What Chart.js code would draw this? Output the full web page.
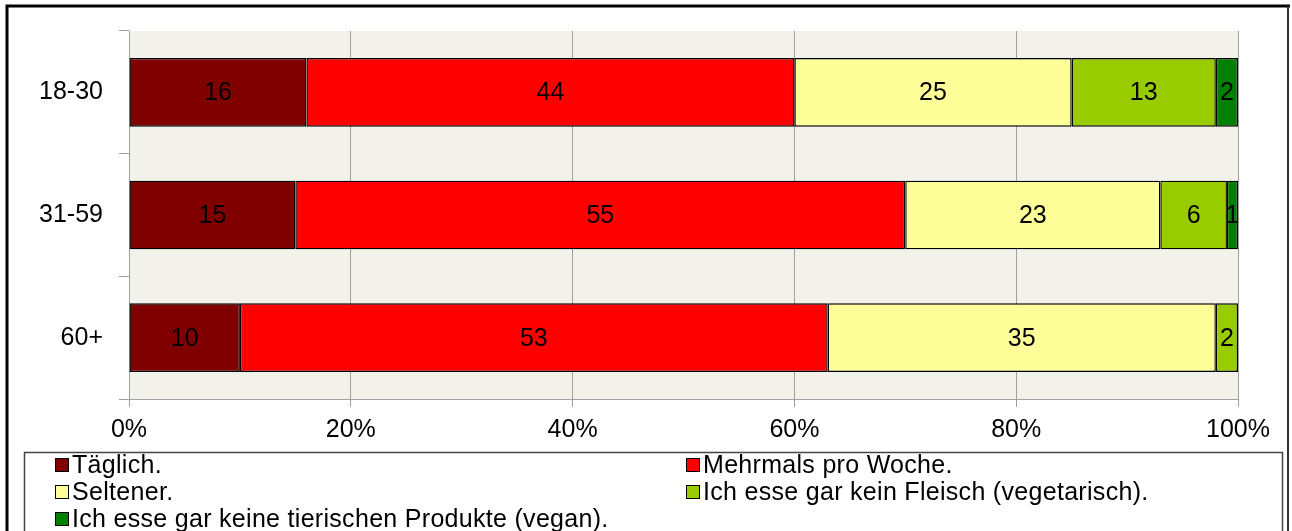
<!DOCTYPE html>
<html>
<head>
<meta charset="utf-8">
<script src="https://cdn.jsdelivr.net/npm/chart.js@4"></script>
<style>
    body { margin: 0; background: #ffffff; }
    canvas { display: block; }
</style>
</head>
<body>
<canvas id="chartFleisch" width="1292" height="531"></canvas>
<script>
    const ageGroups = ['18-30', '31-59', '60+'];

    const taeglich = [16, 15, 10];
    const mehrmals = [44, 55, 53];
    const seltener = [25, 23, 35];
    const vegetarisch = [13, 6, 2];
    const vegan = [2, 1, 0];

    const xTicks = [0, 20, 40, 60, 80, 100];

    const fontFamily = '"Liberation Sans", Arial, sans-serif';

    function makeDataset(label, data, color) {
        return {
            label: label,
            data: data,
            backgroundColor: color,
            borderColor: '#000000',
            borderWidth: 1.4,
            borderSkipped: false,
            categoryPercentage: 0.56,
            barPercentage: 1
        };
    }

    const datasets = [
        makeDataset('Täglich.', taeglich, '#800000'),
        makeDataset('Mehrmals pro Woche.', mehrmals, '#ff0000'),
        makeDataset('Seltener.', seltener, '#ffff99'),
        makeDataset('Ich esse gar kein Fleisch (vegetarisch).', vegetarisch, '#99cc00'),
        makeDataset('Ich esse gar keine tierischen Produkte (vegan).', vegan, '#008000')
    ];

    // beige plot area behind the bars
    const plotBackground = {
        id: 'plotBackground',
        beforeDraw: function (chart) {
            const area = chart.chartArea;
            const ctx = chart.ctx;
            ctx.save();
            ctx.fillStyle = '#f2f1ea';
            ctx.fillRect(area.left, area.top, area.right - area.left, area.bottom - area.top);
            ctx.restore();
        }
    };

    // numbers in the middle of each segment
    const barValues = {
        id: 'barValues',
        afterDatasetsDraw: function (chart) {
            const ctx = chart.ctx;
            ctx.save();
            ctx.font = '25px ' + fontFamily;
            ctx.fillStyle = '#000000';
            ctx.textAlign = 'center';
            ctx.textBaseline = 'middle';
            chart.data.datasets.forEach(function (ds, i) {
                const meta = chart.getDatasetMeta(i);
                meta.data.forEach(function (bar, j) {
                    const value = ds.data[j];
                    if (!value) {
                        return;
                    }
                    ctx.fillText(String(value), (bar.x + bar.base) / 2, bar.y + 1);
                });
            });
            ctx.restore();
        }
    };

    // frame around the whole chart and the boxed legend underneath
    const frameAndLegend = {
        id: 'frameAndLegend',
        afterDraw: function (chart) {
            const ctx = chart.ctx;
            ctx.save();

            ctx.strokeStyle = '#000000';
            ctx.lineWidth = 3;
            ctx.beginPath();
            ctx.moveTo(7, 540);
            ctx.lineTo(7, 6);
            ctx.lineTo(1290, 6);
            ctx.stroke();
            ctx.lineWidth = 2;
            ctx.strokeStyle = '#333333';
            ctx.beginPath();
            ctx.moveTo(1288, 6);
            ctx.lineTo(1288, 540);
            ctx.stroke();

            ctx.lineWidth = 1.5;
            ctx.strokeStyle = '#444444';
            ctx.strokeRect(24.5, 452.5, 1258, 100);

            const columns = [55, 686];
            const rows = [465, 492, 519];
            ctx.font = '25px ' + fontFamily;
            ctx.letterSpacing = '0.3px';
            ctx.textAlign = 'left';
            ctx.textBaseline = 'middle';
            chart.data.datasets.forEach(function (ds, i) {
                const x = columns[i % 2];
                const y = rows[Math.floor(i / 2)];
                ctx.fillStyle = ds.backgroundColor;
                ctx.fillRect(x, y - 7, 14, 14);
                ctx.lineWidth = 1;
                ctx.strokeStyle = '#000000';
                ctx.strokeRect(x + 0.5, y - 6.5, 13, 13);
                ctx.fillStyle = '#000000';
                ctx.fillText(ds.label, x + 17, y + 1);
            });

            ctx.restore();
        }
    };

    new Chart('chartFleisch', {
        type: 'bar',
        data: {
            labels: ageGroups,
            datasets: datasets
        },
        options: {
            indexAxis: 'y',
            responsive: false,
            animation: false,
            layout: {
                padding: { top: 30, right: 54, left: 0, bottom: 0 }
            },
            plugins: {
                legend: { display: false },
                tooltip: { enabled: false }
            },
            scales: {
                x: {
                    stacked: true,
                    min: 0,
                    max: 100,
                    afterBuildTicks: function (scale) {
                        scale.ticks = xTicks.map(function (v) { return { value: v }; });
                    },
                    afterFit: function (scale) {
                        scale.height = 132;
                    },
                    grid: {
                        color: '#a0a0a0',
                        lineWidth: 1,
                        tickLength: 8
                    },
                    border: { color: '#a0a0a0', width: 1 },
                    ticks: {
                        color: '#000000',
                        padding: 8,
                        font: { family: fontFamily, size: 25 },
                        callback: function (value) {
                            return value + '%';
                        }
                    }
                },
                y: {
                    stacked: true,
                    afterFit: function (scale) {
                        scale.width = 129;
                    },
                    grid: {
                        color: '#a0a0a0',
                        drawOnChartArea: false,
                        tickLength: 10
                    },
                    border: { color: '#a0a0a0', width: 1 },
                    ticks: {
                        color: '#000000',
                        padding: 16,
                        font: { family: fontFamily, size: 25 }
                    }
                }
            }
        },
        plugins: [plotBackground, barValues, frameAndLegend]
    });
</script>
</body>
</html>
